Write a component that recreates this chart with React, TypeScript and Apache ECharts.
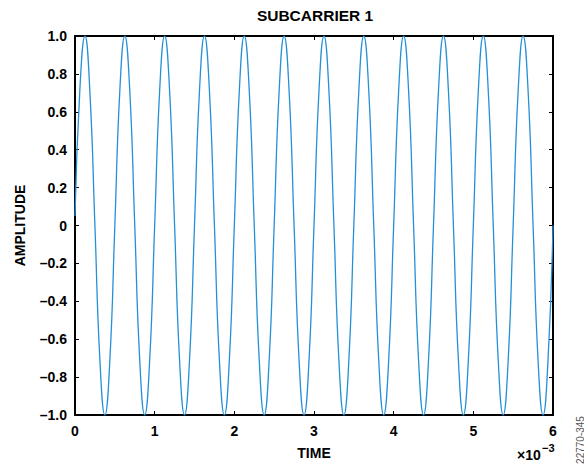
import React, { useEffect, useRef } from "react";
import * as echarts from "echarts";

// Time samples (×10^-3)
const TIME: number[] = [
  0, 0.0625, 0.125, 0.1875, 0.25, 0.3125, 0.375, 0.4375,
  0.5, 0.5625, 0.625, 0.6875, 0.75, 0.8125, 0.875, 0.9375,
  1, 1.0625, 1.125, 1.1875, 1.25, 1.3125, 1.375, 1.4375,
  1.5, 1.5625, 1.625, 1.6875, 1.75, 1.8125, 1.875, 1.9375,
  2, 2.0625, 2.125, 2.1875, 2.25, 2.3125, 2.375, 2.4375,
  2.5, 2.5625, 2.625, 2.6875, 2.75, 2.8125, 2.875, 2.9375,
  3, 3.0625, 3.125, 3.1875, 3.25, 3.3125, 3.375, 3.4375,
  3.5, 3.5625, 3.625, 3.6875, 3.75, 3.8125, 3.875, 3.9375,
  4, 4.0625, 4.125, 4.1875, 4.25, 4.3125, 4.375, 4.4375,
  4.5, 4.5625, 4.625, 4.6875, 4.75, 4.8125, 4.875, 4.9375,
  5, 5.0625, 5.125, 5.1875, 5.25, 5.3125, 5.375, 5.4375,
  5.5, 5.5625, 5.625, 5.6875, 5.75, 5.8125, 5.875, 5.9375,
  6,
];

// Amplitude
const AMPLITUDE: number[] = [
  0.05, 0.73, 1, 0.7, 0, -0.71, -1, -0.71,
  0, 0.71, 1, 0.71, 0, -0.71, -1, -0.71,
  0, 0.71, 1, 0.71, 0, -0.71, -1, -0.71,
  0, 0.71, 1, 0.71, 0, -0.71, -1, -0.71,
  0, 0.71, 1, 0.71, 0, -0.71, -1, -0.71,
  0, 0.71, 1, 0.71, 0, -0.71, -1, -0.71,
  0, 0.71, 1, 0.71, 0, -0.71, -1, -0.71,
  0, 0.71, 1, 0.71, 0, -0.71, -1, -0.71,
  0, 0.71, 1, 0.71, 0, -0.71, -1, -0.71,
  0, 0.71, 1, 0.71, 0, -0.71, -1, -0.71,
  0, 0.71, 1, 0.71, 0, -0.71, -1, -0.71,
  0, 0.71, 1, 0.71, 0, -0.71, -1, -0.71,
  0,
];

const TITLE = "SUBCARRIER 1";
const X_NAME = "TIME";
const Y_NAME = "AMPLITUDE";
const FIG_ID = "22770-345";

const FONT = "'Liberation Sans', Arial, Helvetica, sans-serif";

export default function App() {
  const ref = useRef<HTMLDivElement>(null);

  useEffect(() => {
    if (!ref.current) return;
    const chart = echarts.init(ref.current, undefined, { renderer: "svg" });
    const data = TIME.map((t, i) => [t, AMPLITUDE[i]]);
    const axisLine = { show: true, onZero: false, lineStyle: { color: "#000", width: 2 } };
    const axisTick = { show: true, inside: true, length: 4, lineStyle: { color: "#000", width: 1 } };
    const labelStyle = { color: "#000", fontFamily: FONT, fontWeight: "bold" as const, fontSize: 14 };
    const fmtY = (v: number) => {
      if (Math.abs(v) < 1e-9) return "0";
      const s = v.toFixed(1);
      return s.replace("-", "\u2013");
    };

    chart.setOption({
      animation: false,
      backgroundColor: "#fff",
      grid: {
        left: 75,
        right: 31,
        top: 36,
        bottom: 49,
        containLabel: false,
        outerBoundsMode: "none",
      },
      xAxis: [
        {
          type: "value",
          min: 0,
          max: 6,
          interval: 1,
          position: "bottom",
          axisLine,
          axisTick,
          splitLine: { show: false },
          axisLabel: { ...labelStyle, margin: 9 },
          name: X_NAME,
          nameLocation: "middle",
          nameGap: 31,
          nameTextStyle: { ...labelStyle, fontSize: 14 },
        },
        {
          type: "value",
          min: 0,
          max: 6,
          interval: 1,
          position: "top",
          axisLine,
          axisTick,
          splitLine: { show: false },
          axisLabel: { show: false },
        },
      ],
      yAxis: [
        {
          type: "value",
          min: -1,
          max: 1,
          interval: 0.2,
          position: "left",
          axisLine,
          axisTick,
          splitLine: { show: false },
          axisLabel: { ...labelStyle, margin: 8, formatter: fmtY },
          name: Y_NAME,
          nameLocation: "middle",
          nameGap: 48,
          nameRotate: 90,
          nameTextStyle: { ...labelStyle, fontSize: 14 },
        },
        {
          type: "value",
          min: -1,
          max: 1,
          interval: 0.2,
          position: "right",
          axisLine,
          axisTick,
          splitLine: { show: false },
          axisLabel: { show: false },
        },
      ],
      series: [
        {
          type: "line",
          xAxisIndex: 0,
          yAxisIndex: 0,
          data,
          smooth: 0.5,
          showSymbol: false,
          symbol: "none",
          clip: true,
          lineStyle: { color: "#2590d6", width: 1.3 },
        },
      ],
      graphic: [
        {
          type: "text",
          x: 315,
          y: 15,
          style: {
            text: TITLE,
            fill: "#000",
            font: `bold 15.5px ${FONT}`,
            textAlign: "center",
            textVerticalAlign: "middle",
          },
        },
        {
          type: "text",
          x: 517,
          y: 455,
          style: {
            text: "\u00d710",
            fill: "#000",
            font: `bold 14px ${FONT}`,
            textAlign: "left",
            textVerticalAlign: "middle",
          },
        },
        {
          type: "text",
          x: 542,
          y: 448,
          style: {
            text: "\u22123",
            fill: "#000",
            font: `bold 11px ${FONT}`,
            textAlign: "left",
            textVerticalAlign: "middle",
          },
        },
        {
          type: "text",
          x: 580,
          y: 440,
          rotation: Math.PI / 2,
          style: {
            text: FIG_ID,
            fill: "#555",
            font: `10px ${FONT}`,
            textAlign: "center",
            textVerticalAlign: "middle",
          },
        },
      ],
    });
    return () => chart.dispose();
  }, []);

  return (
    <div
      ref={ref}
      style={{ position: "fixed", left: 0, top: 0, width: 584, height: 464 }}
    />
  );
}
